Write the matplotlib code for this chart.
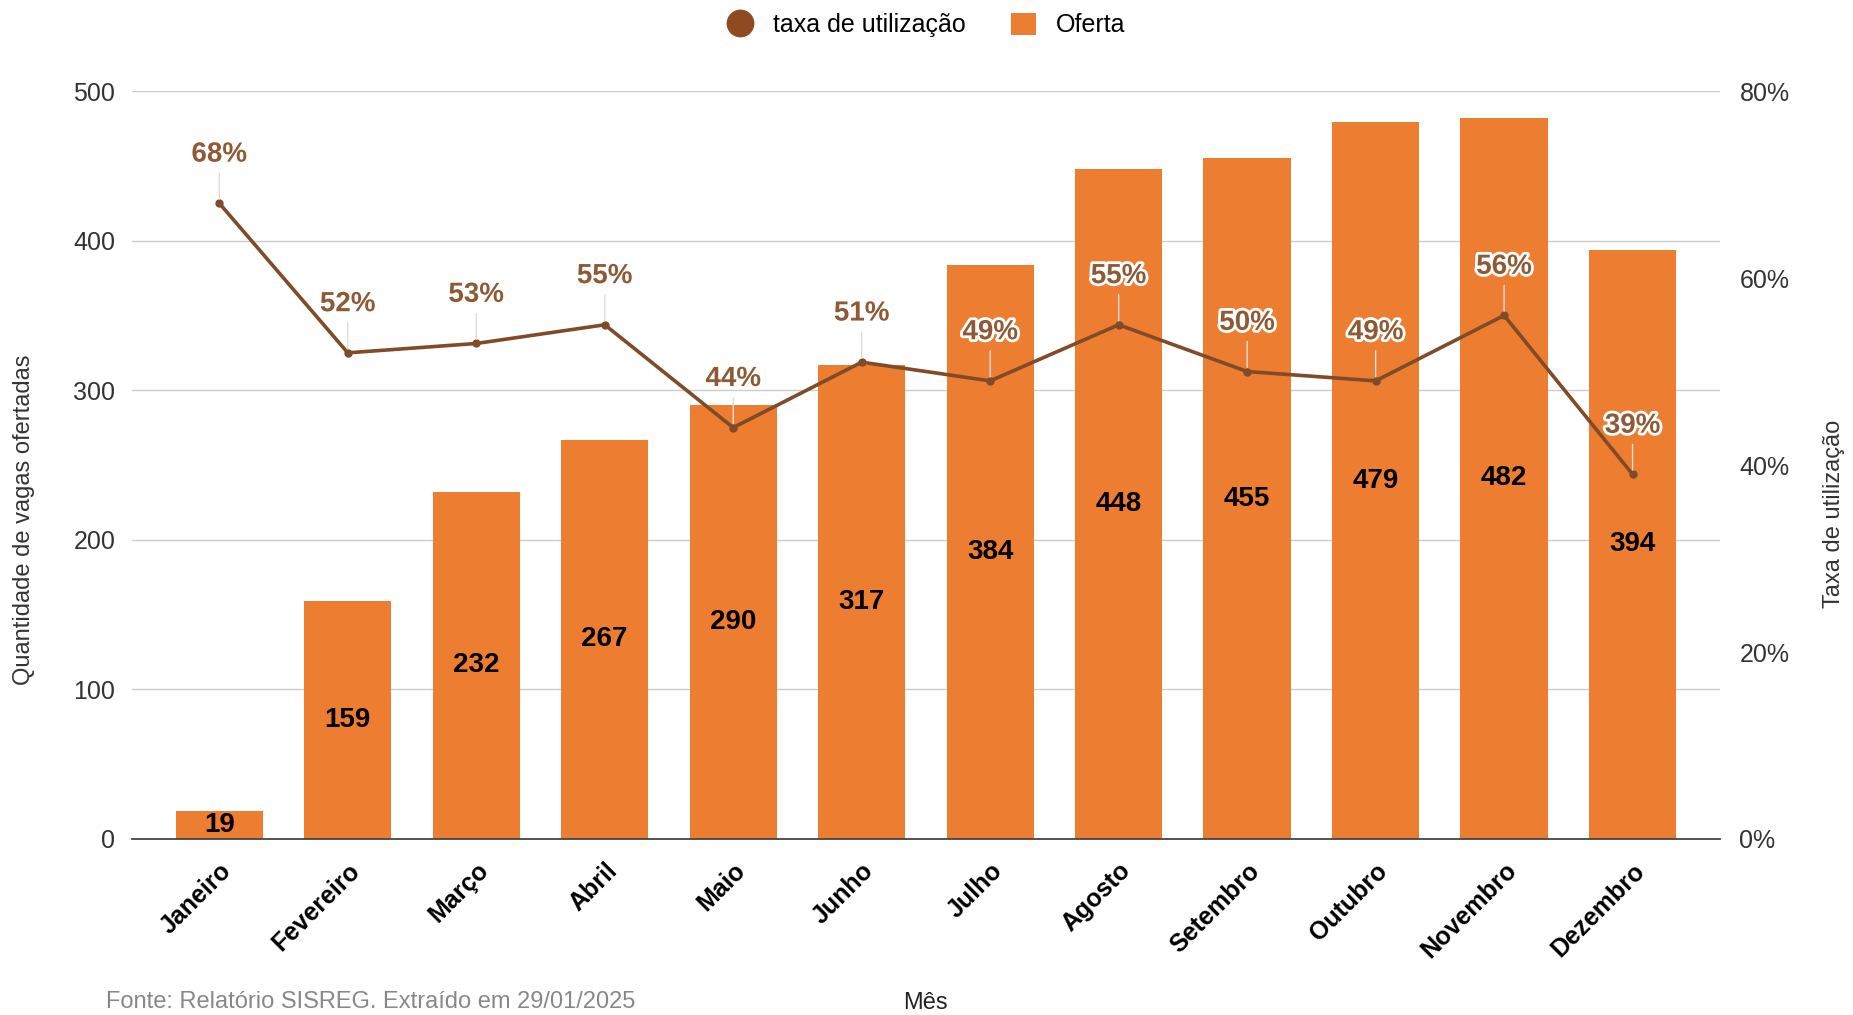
import matplotlib
matplotlib.use("Agg")
import matplotlib.pyplot as plt
import matplotlib.patheffects as pe
from matplotlib.lines import Line2D
from matplotlib.patches import Patch
import numpy as np

plt.rcParams['font.family'] = ['Liberation Sans', 'DejaVu Sans']

# dados
meses = ['Janeiro', 'Fevereiro', 'Março', 'Abril', 'Maio', 'Junho', 'Julho',
         'Agosto', 'Setembro', 'Outubro', 'Novembro', 'Dezembro']
oferta = [19, 159, 232, 267, 290, 317, 384, 448, 455, 479, 482, 394]
taxa = [68, 52, 53, 55, 44, 51, 49, 55, 50, 49, 56, 39]  # em %

cor_barra = '#ED7D31'
cor_linha = '#7f4b28'
cor_rotulo = '#8d5a35'

fig = plt.figure(figsize=(18.53, 10.15), dpi=100)
ax = fig.add_axes([0.0712, 0.1734, 0.8570, 0.7369])
ax2 = ax.twinx()

x = np.arange(len(meses))
bars = ax.bar(x, oferta, width=0.68, color=cor_barra, zorder=2)
ax.bar_label(bars, labels=[str(v) for v in oferta], label_type='center',
             fontsize=20, fontweight='bold', color='black')

ax.set_xlim(-0.68, len(meses) - 1 + 0.68)
ax.set_ylim(0, 500)
ax.set_yticks(range(0, 501, 100))
ax.grid(axis='y', color='#cccccc', lw=1, zorder=0)
ax.set_axisbelow(True)
for s in ['top', 'right', 'left']:
    ax.spines[s].set_visible(False)
ax.spines['bottom'].set_color('#444444')
ax.spines['bottom'].set_linewidth(1.3)
ax.spines['bottom'].set_zorder(3)
ax.tick_params(axis='both', length=0, labelsize=18, labelcolor='#333333', pad=12)
ax.set_xticks(x)
ax.set_xticklabels(meses, rotation=45, ha='right', rotation_mode='anchor',
                   fontsize=18, fontweight='bold', color='black')
ax.tick_params(axis='x', pad=14)

# linha da taxa
ax2.plot(x, taxa, color=cor_linha, lw=2.6, marker='o', markersize=5, zorder=4)
ax2.set_ylim(0, 80)
ax2.set_yticks(range(0, 81, 20))
ax2.set_yticklabels([f'{v}%' for v in range(0, 81, 20)])
ax2.tick_params(axis='y', length=0, labelsize=18, labelcolor='#333333', pad=14)
for s in ['top', 'right', 'left', 'bottom']:
    ax2.spines[s].set_visible(False)

for xi, t in zip(x, taxa):
    ax2.annotate(f'{t}%', xy=(xi, t), xytext=(0, 35), textcoords='offset points',
                 ha='center', va='center', fontsize=20, fontweight='bold',
                 color=cor_rotulo, zorder=5,
                 path_effects=[pe.withStroke(linewidth=4, foreground='white')],
                 arrowprops=dict(arrowstyle='-', color='#dddddd', lw=1,
                                 shrinkA=2, shrinkB=3))

fig.text(24 / 1853, 1 - 520 / 1015, 'Quantidade de vagas ofertadas', rotation=90,
         ha='center', va='center', fontsize=17, color='#333333')
fig.text(1834 / 1853, 1 - 514 / 1015, 'Taxa de utilização', rotation=90,
         ha='center', va='center', fontsize=17, color='#333333')
fig.text(925 / 1853, 1 - 1003 / 1015, 'Mês', ha='center', va='center',
         fontsize=17, color='#222222')
fig.text(106 / 1853, 1 - 1013 / 1015, 'Fonte: Relatório SISREG. Extraído em 29/01/2025',
         ha='left', va='bottom', fontsize=17, color='#888888')

handles = [Line2D([0], [0], marker='o', color='none', markerfacecolor='#8f4a20',
                  markeredgecolor='#8f4a20', markersize=19),
           Patch(facecolor=cor_barra, edgecolor='none')]
fig.legend(handles, ['taxa de utilização', 'Oferta'], loc='center',
           bbox_to_anchor=(0.5, 1 - 25 / 1015), ncol=2, frameon=False,
           fontsize=18, handlelength=1.0, handleheight=1.0, columnspacing=1.8,
           handletextpad=0.8)

fig.savefig('out.png', dpi=100)
